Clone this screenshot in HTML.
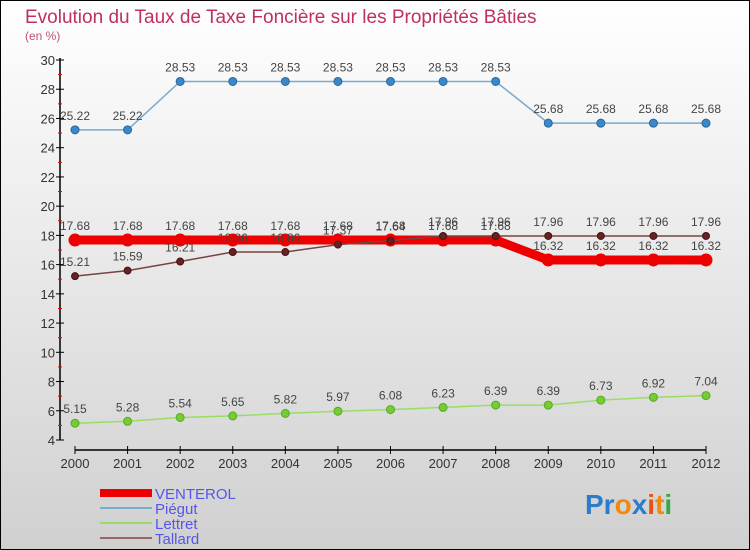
<!DOCTYPE html>
<html><head><meta charset="utf-8"><style>
body{margin:0}
svg{display:block;font-family:"Liberation Sans",sans-serif}
</style></head><body>
<svg width="750" height="550" viewBox="0 0 750 550">
<defs><linearGradient id="bg" x1="0" y1="0" x2="0" y2="1"><stop offset="0" stop-color="#ffffff"/><stop offset="1" stop-color="#d0d0d0"/></linearGradient></defs>
<rect x="0.5" y="0.5" width="749" height="549" fill="url(#bg)" stroke="#000"/>
<text x="25" y="23" font-size="19" fill="#c0305a">Evolution du Taux de Taxe Foncière sur les Propriétés Bâties</text>
<text x="25" y="40" font-size="12" fill="#c0507a">(en %)</text>
<g id="axes"></g>
<g id="series"></g>
<g id="legend">
<rect x="100" y="489" width="52" height="8" fill="#ee0000"/>
<text x="155" y="499" font-size="15" fill="#5555ee">VENTEROL</text>
<line x1="100" y1="508" x2="152" y2="508" stroke="#7aaacc" stroke-width="2"/>
<text x="155" y="514" font-size="15" fill="#5555ee">Piégut</text>
<line x1="100" y1="523" x2="152" y2="523" stroke="#99dd66" stroke-width="2"/>
<text x="155" y="529" font-size="15" fill="#5555ee">Lettret</text>
<line x1="100" y1="538" x2="152" y2="538" stroke="#996666" stroke-width="2"/>
<text x="155" y="544" font-size="15" fill="#5555ee">Tallard</text>
</g>
<text x="585" y="514" font-size="28" font-weight="bold"><tspan fill="#2a7ccc">Pr</tspan><tspan fill="#ee8a10">o</tspan><tspan fill="#2a7ccc">x</tspan><tspan fill="#ee5010">i</tspan><tspan fill="#ee8a10">t</tspan><tspan fill="#33aa44">i</tspan></text>
</svg>
<script>
const years=[2000,2001,2002,2003,2004,2005,2006,2007,2008,2009,2010,2011,2012];
const venterol=[17.68,17.68,17.68,17.68,17.68,17.68,17.68,17.68,17.68,16.32,16.32,16.32,16.32];
const piegut=[25.22,25.22,28.53,28.53,28.53,28.53,28.53,28.53,28.53,25.68,25.68,25.68,25.68];
const lettret=[5.15,5.28,5.54,5.65,5.82,5.97,6.08,6.23,6.39,6.39,6.73,6.92,7.04];
const tallard=[15.21,15.59,16.21,16.86,16.86,17.37,17.64,17.96,17.96,17.96,17.96,17.96,17.96];
const yTicks=[4,6,8,10,12,14,16,18,20,22,24,26,28,30];
const NS='http://www.w3.org/2000/svg';
const xs=i=>75+i*(706-75)/(years.length-1);
const ys=v=>440-(v-4)*(380/26);
function mk(t,a,p){const e=document.createElementNS(NS,t);for(const k in a)e.setAttribute(k,a[k]);p.appendChild(e);return e;}
const ax=document.getElementById('axes');
let l=mk('line',{x1:60,y1:58,x2:60,y2:440,stroke:'#000','stroke-width':1.5},ax);


l=mk('line',{x1:75,y1:450,x2:706,y2:450,stroke:'#000','stroke-width':1.5},ax);


yTicks.forEach(v=>{
 mk('line',{x1:56,x2:64,y1:ys(v),y2:ys(v),stroke:'#000'},ax);
 if(v<30)mk('line',{x1:58,x2:62,y1:ys(v+1),y2:ys(v+1),stroke:'#e00'},ax);
 const t=mk('text',{x:55,y:ys(v)+5,'text-anchor':'end','font-size':13,fill:'#333'},ax);t.textContent=v;
 
 
});
years.forEach((y,i)=>{
 mk('line',{x1:xs(i),x2:xs(i),y1:446,y2:454,stroke:'#000'},ax);
 const t=mk('text',{x:xs(i),y:468,'text-anchor':'middle','font-size':13,fill:'#333'},ax);t.textContent=y;
 
 
});
const sg=document.getElementById('series');
function series(name,data,color,w,r,fill,stroke){
 const g=mk('g',{},sg);
 
 
 const p=mk('polyline',{points:data.map((v,i)=>xs(i)+','+ys(v)).join(' '),fill:'none',stroke:color,'stroke-width':w},g);
 
 
 data.forEach((v,i)=>{
  const c=mk('circle',{cx:xs(i),cy:ys(v),r:r,fill:fill,stroke:stroke},g);
  
  
  const t=mk('text',{x:xs(i),y:ys(v)-10,'text-anchor':'middle','font-size':12,fill:'#444'},g);
  t.textContent=v;
  
  
 });
}
series('piegut',piegut,'#7aaacc',1.5,4,'#3a88cc','#2a6699');
series('lettret',lettret,'#99dd66',1.5,4,'#77cc33','#55aa22');
series('venterol',venterol,'#ee0000',9,6,'#ee0000','#ee0000');
series('tallard',tallard,'#774444',1.5,3.5,'#662222','#441111');
</script>
</body></html>
